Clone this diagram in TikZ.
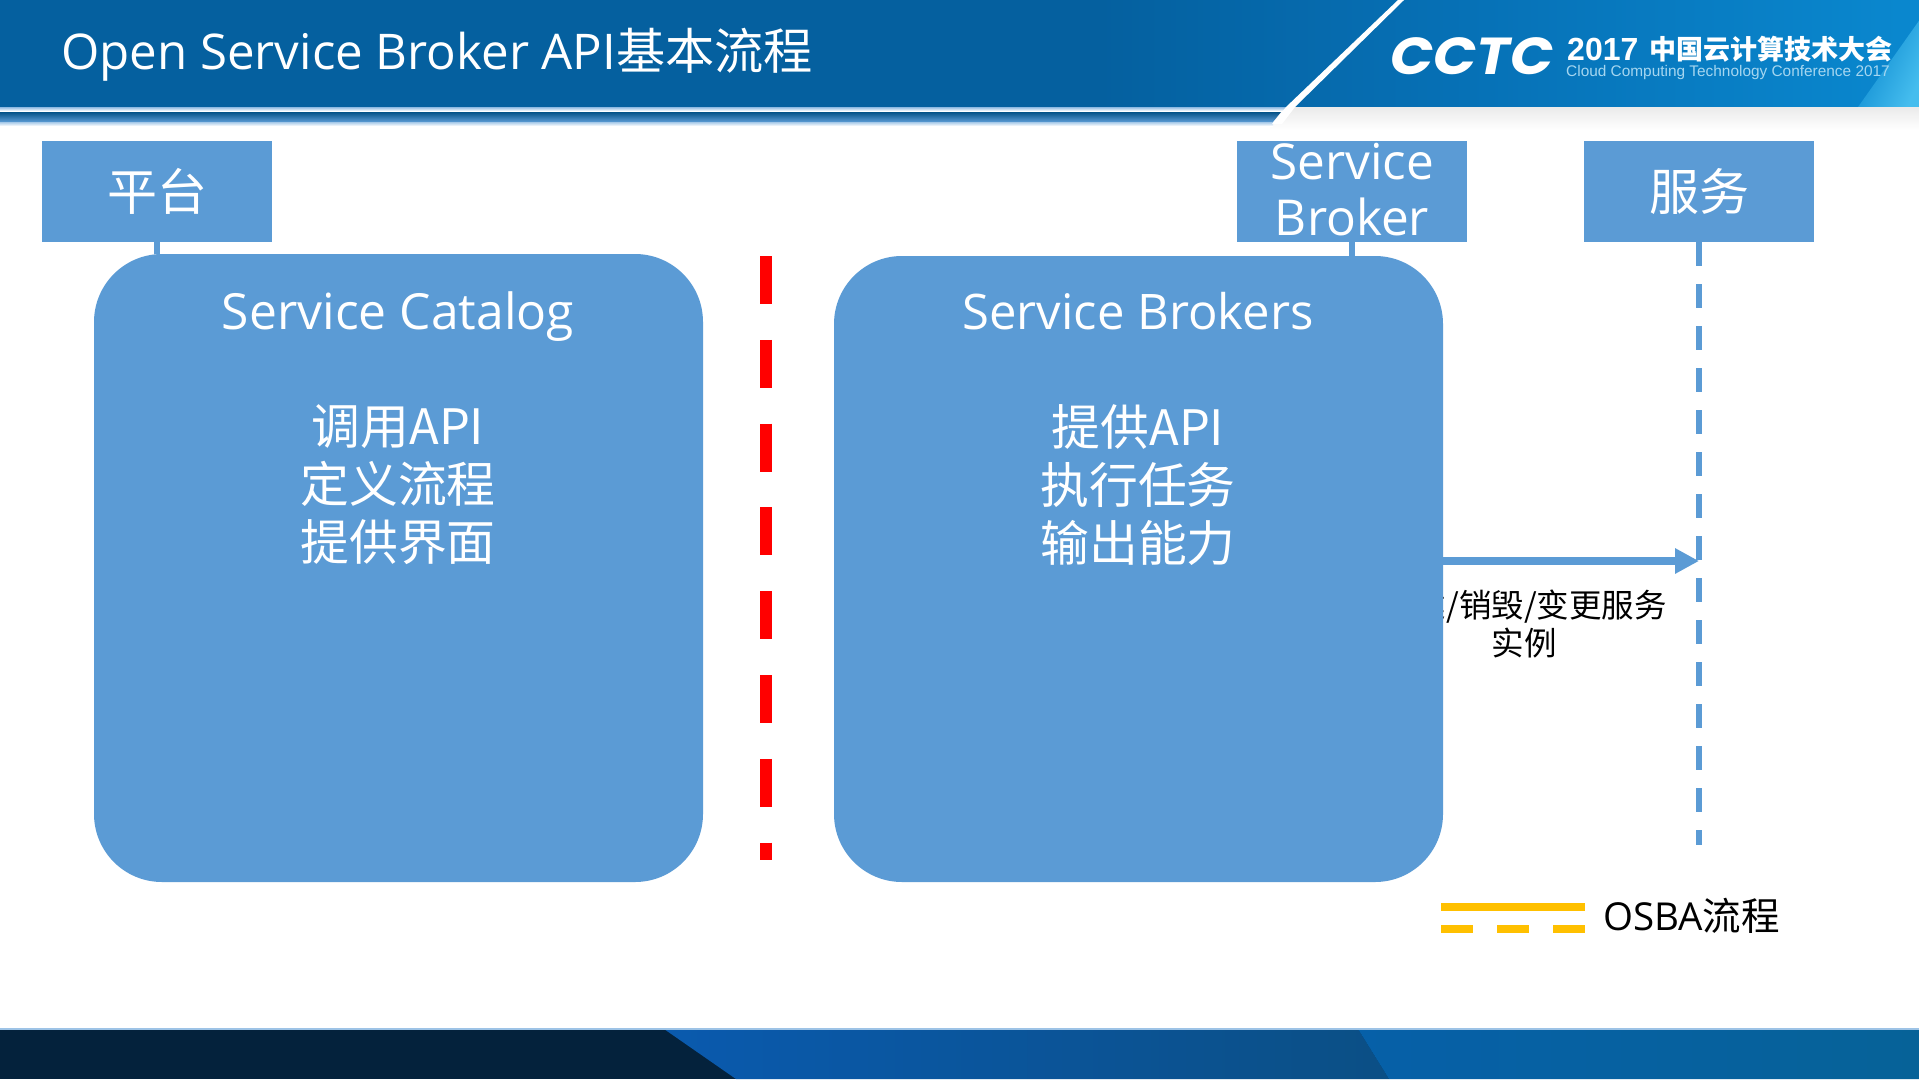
\documentclass[tikz,border=0pt]{standalone}
\usepackage{fontspec}
\setmainfont{Open Sans}
\newfontfamily\cjk{Noto Sans CJK SC}
\newfontfamily\logofont{Poppins}
\newfontfamily\arialfont{Liberation Sans}
\usetikzlibrary{arrows.meta,calc}
\definecolor{boxblue}{HTML}{5B9BD5}
\definecolor{hdrdark}{HTML}{05609F}
\definecolor{hdrmid}{HTML}{0670B5}
\definecolor{hdrlight}{HTML}{0A88CF}
\definecolor{hdrcyan}{HTML}{45BDEE}
\definecolor{footdark}{HTML}{04223C}
\definecolor{foota}{HTML}{0A5AAE}
\definecolor{footb}{HTML}{0B4F85}
\definecolor{footc}{HTML}{0660A8}
\definecolor{footd}{HTML}{066298}
\definecolor{legendgold}{HTML}{FFC000}
\definecolor{logosub}{HTML}{A5D6F0}
\newcommand{\px}[1]{\fontsize{#1}{#1}\selectfont}
\tikzset{
  headbox/.style={fill=boxblue,draw=none,minimum width=230pt,minimum height=101pt,inner sep=0pt,outer sep=0pt},
  bigbox/.style={fill=boxblue,draw=none,rounded corners=68pt,minimum width=609pt,inner sep=0pt,outer sep=0pt},
  whitetext/.style={text=white,align=center,inner sep=0pt},
  link/.style={draw=boxblue,line width=5.5pt},
  lifeline/.style={draw=boxblue,line width=6pt,dash pattern=on 24pt off 18pt},
  reddash/.style={draw=red,line width=12pt,dash pattern=on 48pt off 35.8pt},
  flowarrow/.style={draw=boxblue,line width=8pt,-{Triangle[length=24pt,width=24pt]}},
  goldsolid/.style={draw=legendgold,line width=8pt},
  golddash/.style={draw=legendgold,line width=8pt,dash pattern=on 32pt off 24pt}
}
\begin{document}
\begin{tikzpicture}[x=1pt,y=-1pt]
\useasboundingbox (0,0) rectangle (1919,1079);
\fill[white] (0,0) rectangle (1919,1079);
% header band
\fill[hdrdark] (0,0) rectangle (1100,107);
\shade[left color=hdrdark,right color=hdrmid] (1099,0) rectangle (1450,107);
\shade[left color=hdrmid,right color=hdrlight] (1449,0) rectangle (1919.5,107);
\shade[left color=hdrlight,right color=hdrcyan,shading angle=65] (1858,107) -- (1919.5,107) -- (1919.5,20) -- cycle;
\shade[top color=white!92!black,bottom color=white] (1270,107) rectangle (1919.5,130);
\shade[top color=boxblue!70!white,bottom color=white] (0,107) rectangle (1290,111);
\shade[top color=hdrdark!85!black,bottom color=boxblue] (0,112) -- (1281,112) -- (1273,122) -- (0,122) -- cycle;
\shade[top color=boxblue!55!white,bottom color=white] (0,122) rectangle (1273,126);
\fill[white] (1398,0) -- (1404,0) -- (1295,107) -- (1282,124) -- (1272,124) -- (1286,107) -- cycle;
% logo
\node[anchor=west,inner sep=0pt,text=white,xscale=1.09,transform shape] (logoa) at (1390,56) {\logofont\bfseries\itshape\px{52}CCTC};
\node[anchor=west,inner sep=0pt,text=white] (logob) at (1567,49) {\arialfont\bfseries\px{32}2017};
\node[anchor=west,inner sep=0pt,text=white] (logoc) at (1649,49) {\cjk\bfseries\px{27}中国云计算技术大会};
\node[anchor=west,inner sep=0pt,text=logosub] (logod) at (1566,73) {\arialfont\px{15.4}Cloud Computing Technology Conference 2017};
% title
\node[anchor=west,inner sep=0pt,text=white] (title) at (61,55) {\px{49.2}Open Service Broker API{\cjk 基本流程}};
% footer
\fill[footdark] (0,1029) rectangle (1919.5,1079);
\shade[left color=foota,right color=footb] (664,1029) -- (1358,1029) -- (1389,1079) -- (736,1079) -- cycle;
\shade[left color=footc,right color=footd] (1358,1029) -- (1919.5,1029) -- (1919.5,1079) -- (1389,1079) -- cycle;
\draw[boxblue!60!white,line width=1.5pt] (0,1029) -- (1919.5,1029);
% headers
\node[headbox] (plat) at (157,191.5) {};
\node[whitetext] (platt) at (plat.center) {\cjk\px{50}平台};
\node[headbox] (sb) at (1352,191.5) {};
\node[whitetext,font=\fontsize{49.5}{56}\selectfont] (sbt) at (1352,190) {Service\\Broker};
\node[headbox] (svc) at (1699,191.5) {};
\node[whitetext] (svct) at (svc.center) {\cjk\px{50}服务};
% label lies behind the broker box
\node[align=center,inner sep=0pt,text=black,font=\fontsize{32.5}{38}\selectfont\cjk] (lab) at (1524,624) {创建/销毁/变更服务\\实例};
% boxes
\node[bigbox,minimum height=628pt] (cat) at (398.5,568) {};
\node[bigbox,minimum height=626pt] (brk) at (1138.5,569) {};
\node[whitetext,anchor=base] (catt) at (398,329) {\px{49.8}Service Catalog};
\node[whitetext,anchor=base] (brkt) at (1138,329) {\px{49}Service Brokers};
\node[whitetext,font=\fontsize{48.8}{58}\selectfont\cjk] (catl) at (398,484.5) {调用API\\定义流程\\提供界面};
\node[whitetext,font=\fontsize{48.8}{58}\selectfont\cjk] (brkl) at (1138,485.5) {提供API\\执行任务\\输出能力};
% connectors
\draw[link] (plat.south) -- (plat.south |- cat.north);
\draw[link] (sb.south) -- (sb.south |- brk.north);
\coordinate (svcend) at (1699,845);
\draw[lifeline] (svc.south) -- (svcend);
\coordinate (arrstart) at (1443,561);
\coordinate (arrend) at (1699,561);
\draw[flowarrow] (arrstart) -- (arrend);
% red divider
\coordinate (reda) at (766,256);
\coordinate (redb) at (766,860);
\draw[reddash] (reda) -- (redb);
% legend
\coordinate (lga) at (1441,907);
\coordinate (lgb) at (1585,907);
\coordinate (lgc) at (1441,929);
\coordinate (lgd) at (1585,929);
\draw[goldsolid] (lga) -- (lgb);
\draw[golddash] (lgc) -- (lgd);
\node[anchor=west,inner sep=0pt,text=black] (lgt) at (1603,916) {\px{38.5}OSBA{\cjk 流程}};
\end{tikzpicture}
\end{document}
